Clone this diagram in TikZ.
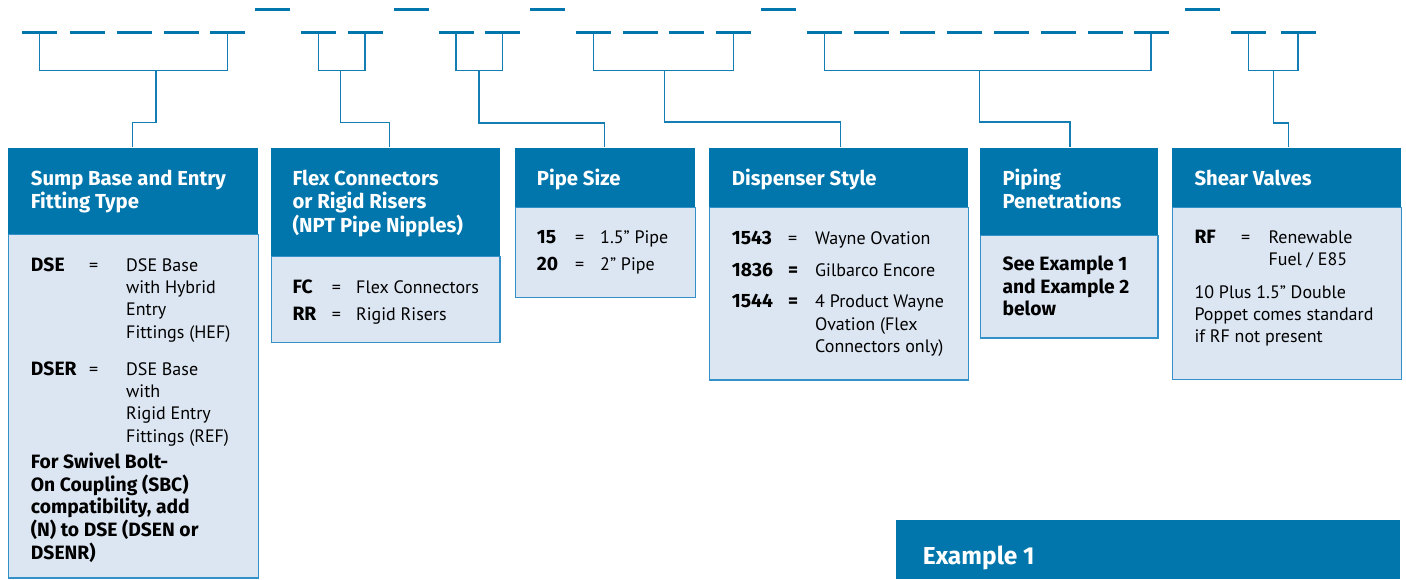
\documentclass[tikz,border=0pt]{standalone}
\usepackage{fontspec}
\setmainfont{PT Sans}
\newfontfamily\boldfam{Fira Sans}
\usetikzlibrary{positioning}
\definecolor{hdrblue}{RGB}{0,118,172}
\definecolor{bodyblue}{RGB}{220,230,242}
\definecolor{edgeblue}{RGB}{52,145,200}
\definecolor{lineblue}{RGB}{20,125,180}
\newcommand{\stackl}[1]{\begin{tabular}[t]{@{}l@{}}#1\end{tabular}}
\begin{document}
\begin{tikzpicture}[
  x=1pt,y=-1pt,
  slot/.style ={fill=hdrblue,minimum width=35pt,minimum height=3pt,inner sep=0pt,anchor=west},
  link/.style ={draw=lineblue,line width=1.3pt},
  hdr/.style  ={fill=hdrblue,inner sep=0pt,anchor=north west},
  body/.style ={fill=bodyblue,draw=edgeblue,line width=1.2pt,inner sep=0pt,anchor=north west},
  htext/.style={text=white,font=\fontsize{20.3}{23.3}\selectfont\boldfam\bfseries,inner sep=0pt,anchor=base west},
  btext/.style={font=\fontsize{18}{22.4}\selectfont,inner sep=0pt,anchor=base west},
  bkey/.style ={btext,font=\fontsize{19.3}{22.4}\selectfont\boldfam\bfseries}]
\useasboundingbox (0,0) rectangle (1406,579);
% --- Code slots along the top ---
\foreach \x/\n in {21.7/1,70/2,116.7/3,163.3/4,210/5,300.7/6,347.3/7,438.3/8,485/9,
  575.7/10,622.3/11,669/12,715.7/13,806.7/14,853.3/15,900.2/16,946.8/17,994/18,
  1041/19,1088/20,1133.3/21,1230.7/22,1280.3/23}
  \node[slot] (d\n) at (\x,32.7) {};
\foreach \x/\n in {255/1,393.3/2,530/3,761/4,1184.3/5}
  \node[slot] (r\n) at (\x,9.3) {};
% --- Category boxes: header and body ---
\foreach \n/\l/\r/\h/\b in {sump/7.5/257.7/234/577.3, flex/270.7/499.3/256/341.7,
  pipe/515/695/206.7/297, disp/709/967.7/206.7/379.3,
  pen/980/1157.3/235/337.3, shear/1171.7/1400.7/206.7/378.7}
{
  \node[body,minimum width=\r-\l,minimum height=\b-\h] (\n-b) at (\l,\h) {};
  \node[hdr,minimum width=\r-\l,minimum height=\h-147.3] (\n-h) at (\l,147.3) {};
}
\node[hdr,minimum width=504,minimum height=59] (ex-h) at (896,520) {};
% --- Brackets from slots down to boxes ---
\coordinate (rail) at (0,70.7);
\foreach \a/\b in {1/5,6/7,8/9,10/13,14/21,22/23}
  \draw[link] (d\a.south) -- (d\a.south |- rail) -- (d\b.south |- rail) -- (d\b.south);
\foreach \s/\y/\n/\dx in {156/122.7/sump/0,340.7/122.7/flex/4.3,479/123/pipe/-0.7,
  664.3/122/disp/1.7,979.5/122/pen/1.1,1273.7/123/shear/2.1}
{
  \coordinate (\n-s) at (\s,70.7);
  \draw[link] (\n-s) -- (\s,\y) -| ([xshift=\dx pt]\n-h.north);
}
% --- Header texts ---
\node[htext] (sump-t)  at (30.7,185)   {\stackl{Sump Base and Entry\\Fitting Type}};
\node[htext] (flex-t)  at (292.3,185)  {\stackl{Flex Connectors\\or Rigid Risers\\(NPT Pipe Nipples)}};
\node[htext] (pipe-t)  at (536.7,185)  {Pipe Size};
\node[htext] (disp-t)  at (731.7,185)  {Dispenser Style};
\node[htext] (pen-t)   at (1002.3,185) {\stackl{Piping\\Penetrations}};
\node[htext] (shear-t) at (1194.3,185) {Shear Valves};
\node[htext,font=\fontsize{24.5}{28}\selectfont\boldfam\bfseries] (ex-t) at (922.7,564.3) {Example 1};
% --- Sump base entries ---
\node[bkey]  (dse-k)  at (30.7,271) {DSE};
\node[btext] (dse-e)  at (89,271)   {=};
\node[btext] (dse-v)  at (126,271)  {\stackl{DSE Base\\with Hybrid\\Entry\\Fittings (HEF)}};
\node[bkey]  (dser-k) at (30.7,375) {DSER};
\node[btext] (dser-e) at (89,375)   {=};
\node[btext] (dser-v) at (126,375)  {\stackl{DSE Base\\with\\Rigid Entry\\Fittings (REF)}};
\node[bkey,font=\fontsize{19.3}{21.7}\selectfont\boldfam\bfseries] (sbc-n) at (30.7,468.3)
  {\stackl{For Swivel Bolt-\\On Coupling (SBC)\\compatibility, add\\(N) to DSE (DSEN or\\DSENR)}};
% --- Flex connector entries ---
\node[bkey]  (fc-k) at (292.3,293.3) {FC};
\node[btext] (fc-e) at (331.7,293.3) {=};
\node[btext] (fc-v) at (356,293.3)   {Flex Connectors};
\node[bkey]  (rr-k) at (292.3,320)   {RR};
\node[btext] (rr-e) at (331.7,320)   {=};
\node[btext] (rr-v) at (356,320)     {Rigid Risers};
% --- Pipe size entries ---
\node[bkey]  (p15-k) at (536.7,243.3) {15};
\node[btext] (p15-e) at (575,243.3)   {=};
\node[btext] (p15-v) at (600,243.3)   {1.5” Pipe};
\node[bkey]  (p20-k) at (536.7,270.7) {20};
\node[btext] (p20-e) at (575,270.7)   {=};
\node[btext] (p20-v) at (600,270.7)   {2” Pipe};
% --- Dispenser entries ---
\node[bkey]  (w43-k) at (731.7,244)   {1543};
\node[btext] (w43-e) at (788,244)     {=};
\node[btext] (w43-v) at (815,244)     {Wayne Ovation};
\node[bkey]  (g36-k) at (731.7,276)   {1836};
\node[bkey]  (g36-e) at (788,276)     {=};
\node[btext] (g36-v) at (815,276)     {Gilbarco Encore};
\node[bkey]  (w44-k) at (731.7,307.7) {1544};
\node[bkey]  (w44-e) at (788,307.7)   {=};
\node[btext] (w44-v) at (815,307.7)   {\stackl{4 Product Wayne\\Ovation (Flex\\Connectors only)}};
% --- Piping penetrations ---
\node[bkey] (pen-n) at (1002.3,270.7) {\stackl{See Example 1\\and Example 2\\below}};
% --- Shear valve entries ---
\node[bkey]  (rf-k) at (1194.3,243.3) {RF};
\node[btext] (rf-e) at (1241,243.3)   {=};
\node[btext] (rf-v) at (1268.3,243.3) {\stackl{Renewable\\Fuel / E85}};
\node[btext,font=\fontsize{18}{22}\selectfont] (rf-n) at (1194.3,298.3)
  {\stackl{10 Plus 1.5” Double\\Poppet comes standard\\if RF not present}};
\end{tikzpicture}
\end{document}
